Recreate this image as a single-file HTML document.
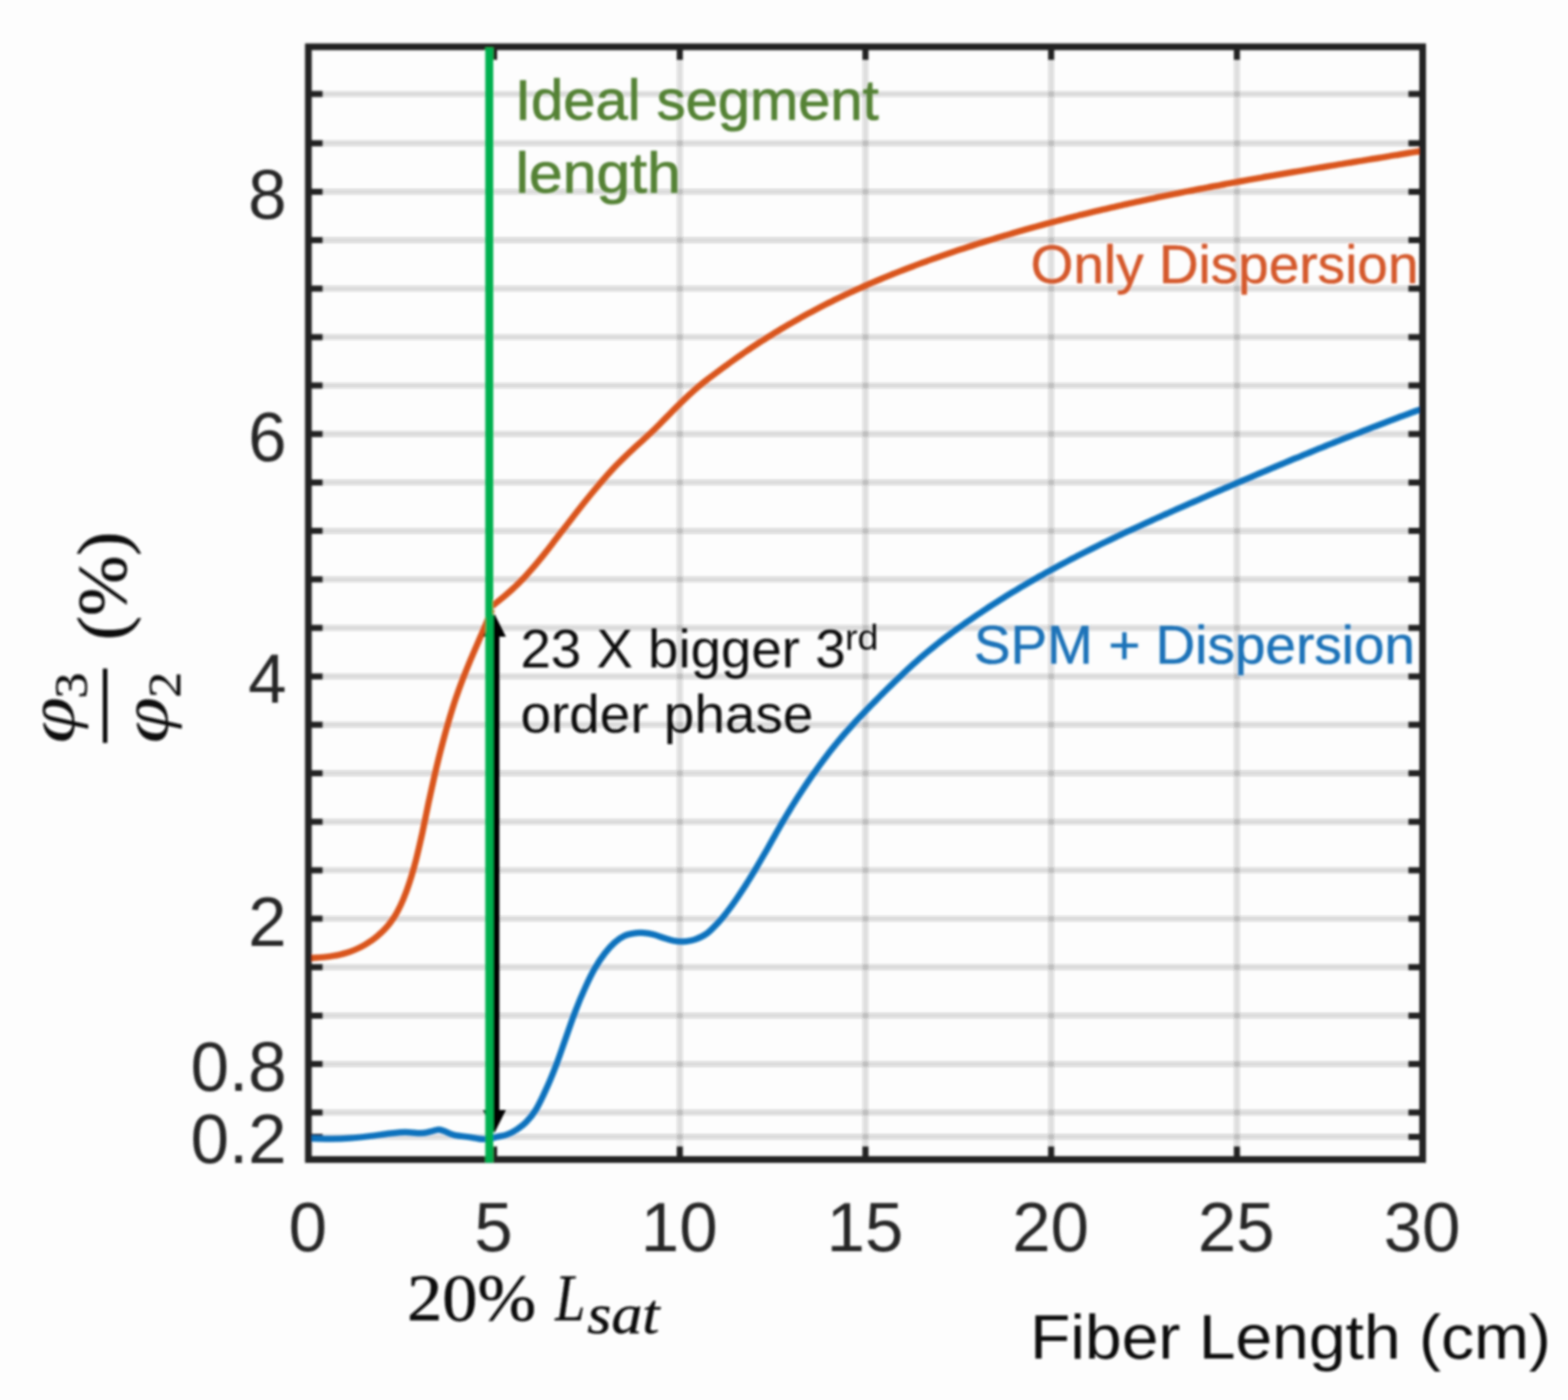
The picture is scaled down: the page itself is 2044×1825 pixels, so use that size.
<!DOCTYPE html>
<html lang="en"><head><meta charset="utf-8"><title>Fiber Length chart</title>
<style>
html,body{margin:0;padding:0;background:#fdfdfd;}
body{width:2044px;height:1825px;overflow:hidden;}
svg{display:block;}
</style></head><body>
<svg width="2044" height="1825" viewBox="0 0 2044 1825">
<defs><filter id="b" x="-5%" y="-5%" width="110%" height="110%"><feGaussianBlur stdDeviation="1.5"/></filter></defs>
<rect width="2044" height="1825" fill="#fdfdfd"/>
<g filter="url(#b)">
<g stroke="#262626" stroke-opacity="0.155" stroke-width="7.4" fill="none">
<path d="M420.0 1481.9H1836.5"/>
<path d="M420.0 1450.3H1836.5"/>
<path d="M420.0 1387.1H1836.5"/>
<path d="M420.0 1323.9H1836.5"/>
<path d="M420.0 1260.7H1836.5"/>
<path d="M420.0 1197.6H1836.5"/>
<path d="M420.0 1134.4H1836.5"/>
<path d="M420.0 1071.2H1836.5"/>
<path d="M420.0 1008.0H1836.5"/>
<path d="M420.0 944.8H1836.5"/>
<path d="M420.0 881.7H1836.5"/>
<path d="M420.0 818.5H1836.5"/>
<path d="M420.0 755.3H1836.5"/>
<path d="M420.0 692.1H1836.5"/>
<path d="M420.0 628.9H1836.5"/>
<path d="M420.0 565.8H1836.5"/>
<path d="M420.0 502.6H1836.5"/>
<path d="M420.0 439.4H1836.5"/>
<path d="M420.0 376.2H1836.5"/>
<path d="M420.0 313.0H1836.5"/>
<path d="M420.0 249.9H1836.5"/>
<path d="M420.0 186.7H1836.5"/>
<path d="M420.0 122.6H1836.5"/>
</g>
<g stroke="#262626" stroke-opacity="0.145" stroke-width="7.6" fill="none">
<path d="M886.2 77.0V1495.5"/>
<path d="M1128.2 77.0V1495.5"/>
<path d="M1370.3 77.0V1495.5"/>
<path d="M1612.4 77.0V1495.5"/>
</g>
<g stroke="#242424" stroke-width="8" fill="none">
<path d="M402.0 1481.9h18.5M1854.5 1481.9h-18.5"/>
<path d="M402.0 1450.3h18.5M1854.5 1450.3h-18.5"/>
<path d="M402.0 1387.1h18.5M1854.5 1387.1h-18.5"/>
<path d="M402.0 1323.9h18.5M1854.5 1323.9h-18.5"/>
<path d="M402.0 1260.7h18.5M1854.5 1260.7h-18.5"/>
<path d="M402.0 1197.6h18.5M1854.5 1197.6h-18.5"/>
<path d="M402.0 1134.4h18.5M1854.5 1134.4h-18.5"/>
<path d="M402.0 1071.2h18.5M1854.5 1071.2h-18.5"/>
<path d="M402.0 1008.0h18.5M1854.5 1008.0h-18.5"/>
<path d="M402.0 944.8h18.5M1854.5 944.8h-18.5"/>
<path d="M402.0 881.7h18.5M1854.5 881.7h-18.5"/>
<path d="M402.0 818.5h18.5M1854.5 818.5h-18.5"/>
<path d="M402.0 755.3h18.5M1854.5 755.3h-18.5"/>
<path d="M402.0 692.1h18.5M1854.5 692.1h-18.5"/>
<path d="M402.0 628.9h18.5M1854.5 628.9h-18.5"/>
<path d="M402.0 565.8h18.5M1854.5 565.8h-18.5"/>
<path d="M402.0 502.6h18.5M1854.5 502.6h-18.5"/>
<path d="M402.0 439.4h18.5M1854.5 439.4h-18.5"/>
<path d="M402.0 376.2h18.5M1854.5 376.2h-18.5"/>
<path d="M402.0 313.0h18.5M1854.5 313.0h-18.5"/>
<path d="M402.0 249.9h18.5M1854.5 249.9h-18.5"/>
<path d="M402.0 186.7h18.5M1854.5 186.7h-18.5"/>
<path d="M402.0 122.6h18.5M1854.5 122.6h-18.5"/>
<path d="M644.1 61.0v17M644.1 1511.5v-17"/>
<path d="M886.2 61.0v17M886.2 1511.5v-17"/>
<path d="M1128.2 61.0v17M1128.2 1511.5v-17"/>
<path d="M1370.3 61.0v17M1370.3 1511.5v-17"/>
<path d="M1612.4 61.0v17M1612.4 1511.5v-17"/>
</g>
<text id="ideal" x="671.3" y="155.7" font-family="'Liberation Sans', Arial, Helvetica, sans-serif" font-size="75.0" fill="#548235" textLength="474.2" lengthAdjust="spacingAndGlyphs" stroke="#548235" stroke-width="1.00">Ideal segment</text>
<text id="length" x="672.0" y="251.4" font-family="'Liberation Sans', Arial, Helvetica, sans-serif" font-size="75.0" fill="#548235" textLength="215.4" lengthAdjust="spacingAndGlyphs" stroke="#548235" stroke-width="1.00">length</text>
<text id="only" x="1343.5" y="368.9" font-family="'Liberation Sans', Arial, Helvetica, sans-serif" font-size="71.0" fill="#d4582a" textLength="505.5" lengthAdjust="spacingAndGlyphs" stroke="#d4582a" stroke-width="0.60">Only Dispersion</text>
<text id="spm" x="1269.6" y="865.0" font-family="'Liberation Sans', Arial, Helvetica, sans-serif" font-size="71.0" fill="#1a72b8" textLength="575.0" lengthAdjust="spacingAndGlyphs" stroke="#1a72b8" stroke-width="0.60">SPM + Dispersion</text>
<text id="x23" x="678.4" y="870.0" font-family="'Liberation Sans', Arial, Helvetica, sans-serif" font-size="71.0" fill="#111" textLength="423.9" lengthAdjust="spacingAndGlyphs">23 X bigger 3</text>
<text id="rd" x="1101.4" y="846.6" font-family="'Liberation Sans', Arial, Helvetica, sans-serif" font-size="47.0" fill="#111" textLength="43.9" lengthAdjust="spacingAndGlyphs">rd</text>
<text id="order" x="678.4" y="954.6" font-family="'Liberation Sans', Arial, Helvetica, sans-serif" font-size="71.0" fill="#111" textLength="382.0" lengthAdjust="spacingAndGlyphs">order phase</text>
<text id="fiber" x="1342.7" y="1770.6" font-family="'Liberation Sans', Arial, Helvetica, sans-serif" font-size="82.0" fill="#111" textLength="679.1" lengthAdjust="spacingAndGlyphs">Fiber Length (cm)</text>
<text id="p20" x="530.7" y="1720.8" font-family="'Liberation Serif', 'DejaVu Serif', serif" font-size="86.0" fill="#111" textLength="168.1" lengthAdjust="spacingAndGlyphs" stroke="#111" stroke-width="0.70">20%</text>
<text id="L" x="723.8" y="1720.8" font-family="'Liberation Serif', 'DejaVu Serif', serif" font-size="86.0" fill="#111" font-style="italic" textLength="39.2" lengthAdjust="spacingAndGlyphs" stroke="#111" stroke-width="0.50">L</text>
<text id="sat" x="765.6" y="1737.6" font-family="'Liberation Serif', 'DejaVu Serif', serif" font-size="74.0" fill="#111" font-style="italic" textLength="94.1" lengthAdjust="spacingAndGlyphs" stroke="#111" stroke-width="0.60">sat</text>
<text id="pct" x="-834.6" y="164.0" font-family="'Liberation Serif', 'DejaVu Serif', serif" font-size="90.0" fill="#111" textLength="141.7" lengthAdjust="spacingAndGlyphs" stroke="#111" stroke-width="0.70" transform="rotate(-90)">(%)</text>
<text id="phi3" x="-969.1" y="96.0" font-family="'Liberation Serif', 'DejaVu Serif', serif" font-size="86.0" fill="#111" font-style="italic" textLength="60.6" lengthAdjust="spacingAndGlyphs" transform="rotate(-90)">φ</text>
<text id="s3" x="-910.8" y="113.0" font-family="'Liberation Serif', 'DejaVu Serif', serif" font-size="62.0" fill="#111" textLength="34.1" lengthAdjust="spacingAndGlyphs" stroke="#111" stroke-width="0.40" transform="rotate(-90)">3</text>
<text id="phi2" x="-969.1" y="218.0" font-family="'Liberation Serif', 'DejaVu Serif', serif" font-size="86.0" fill="#111" font-style="italic" textLength="60.6" lengthAdjust="spacingAndGlyphs" transform="rotate(-90)">φ</text>
<text id="s2" x="-909.7" y="235.0" font-family="'Liberation Serif', 'DejaVu Serif', serif" font-size="62.0" fill="#111" textLength="34.1" lengthAdjust="spacingAndGlyphs" stroke="#111" stroke-width="0.40" transform="rotate(-90)">2</text>
<text id="y8" x="373.6" y="285.0" font-family="'Liberation Sans', Arial, Helvetica, sans-serif" font-size="90.0" fill="#262626" text-anchor="end">8</text>
<text id="y6" x="373.6" y="600.6" font-family="'Liberation Sans', Arial, Helvetica, sans-serif" font-size="90.0" fill="#262626" text-anchor="end">6</text>
<text id="y4" x="373.6" y="916.4" font-family="'Liberation Sans', Arial, Helvetica, sans-serif" font-size="90.0" fill="#262626" text-anchor="end">4</text>
<text id="y2" x="373.6" y="1232.8" font-family="'Liberation Sans', Arial, Helvetica, sans-serif" font-size="90.0" fill="#262626" text-anchor="end">2</text>
<text id="y0.8" x="373.6" y="1421.8" font-family="'Liberation Sans', Arial, Helvetica, sans-serif" font-size="90.0" fill="#262626" text-anchor="end">0.8</text>
<text id="y0.2" x="373.6" y="1515.8" font-family="'Liberation Sans', Arial, Helvetica, sans-serif" font-size="90.0" fill="#262626" text-anchor="end">0.2</text>
<text id="x0" x="401.2" y="1630.6" font-family="'Liberation Sans', Arial, Helvetica, sans-serif" font-size="90.0" fill="#262626" text-anchor="middle">0</text>
<text id="x5" x="643.3" y="1630.6" font-family="'Liberation Sans', Arial, Helvetica, sans-serif" font-size="90.0" fill="#262626" text-anchor="middle">5</text>
<text id="x10" x="885.4" y="1630.6" font-family="'Liberation Sans', Arial, Helvetica, sans-serif" font-size="90.0" fill="#262626" text-anchor="middle">10</text>
<text id="x15" x="1127.5" y="1630.6" font-family="'Liberation Sans', Arial, Helvetica, sans-serif" font-size="90.0" fill="#262626" text-anchor="middle">15</text>
<text id="x20" x="1369.5" y="1630.6" font-family="'Liberation Sans', Arial, Helvetica, sans-serif" font-size="90.0" fill="#262626" text-anchor="middle">20</text>
<text id="x25" x="1611.6" y="1630.6" font-family="'Liberation Sans', Arial, Helvetica, sans-serif" font-size="90.0" fill="#262626" text-anchor="middle">25</text>
<text id="x30" x="1853.7" y="1630.6" font-family="'Liberation Sans', Arial, Helvetica, sans-serif" font-size="90.0" fill="#262626" text-anchor="middle">30</text>
<path d="M401.4 1249.0C402.8 1248.9 406.9 1248.8 409.7 1248.6C412.4 1248.4 415.2 1248.3 418.0 1248.0C420.7 1247.8 423.5 1247.5 426.2 1247.2C429.0 1246.9 431.7 1246.5 434.5 1246.0C437.3 1245.6 440.0 1245.1 442.8 1244.4C445.5 1243.8 448.3 1243.1 451.1 1242.3C453.8 1241.5 456.6 1240.5 459.3 1239.5C462.1 1238.4 464.8 1237.2 467.6 1235.9C470.4 1234.6 473.1 1233.1 475.9 1231.5C478.6 1229.9 481.4 1228.1 484.2 1226.2C486.9 1224.2 489.7 1222.1 492.4 1219.8C495.2 1217.4 498.0 1215.0 500.7 1212.2C503.5 1209.3 506.2 1206.2 509.0 1202.5C511.7 1198.8 514.5 1194.7 517.3 1189.7C520.0 1184.7 522.8 1179.2 525.5 1172.7C528.3 1166.1 531.1 1158.8 533.8 1150.3C536.6 1141.8 539.3 1132.3 542.1 1121.7C544.8 1111.0 547.6 1098.7 550.4 1086.3C553.1 1073.8 555.9 1059.6 558.6 1046.7C561.4 1033.9 564.2 1021.1 566.9 1009.1C569.7 997.2 572.4 985.9 575.2 975.2C578.0 964.5 580.7 954.3 583.5 944.8C586.2 935.2 589.0 926.2 591.7 917.7C594.5 909.2 597.3 901.4 600.0 893.8C602.8 886.3 605.5 879.3 608.3 872.5C611.1 865.6 613.8 859.1 616.6 852.7C619.3 846.2 622.1 840.0 624.8 833.6C627.6 827.2 630.4 821.0 633.1 814.4C635.9 807.8 640.0 797.5 641.4 794.2" stroke="#d9541b" stroke-width="8.2" fill="none" stroke-linejoin="round"/>
<path d="M641.4 790.2C642.9 789.0 647.2 785.6 650.1 783.3C653.0 780.9 655.9 778.6 658.8 776.1C661.8 773.6 664.7 771.0 667.6 768.4C670.5 765.7 673.4 763.0 676.3 760.1C679.2 757.2 682.1 754.2 685.0 751.1C687.9 747.9 690.8 744.6 693.7 741.3C696.7 737.9 699.6 734.5 702.5 730.9C705.4 727.4 708.3 723.8 711.2 720.1C714.1 716.4 717.0 712.7 719.9 708.9C722.8 705.2 725.7 701.4 728.6 697.6C731.5 693.8 734.5 690.0 737.4 686.3C740.3 682.5 743.2 678.7 746.1 675.0C749.0 671.2 751.9 667.5 754.8 663.8C757.7 660.1 760.6 656.4 763.5 652.8C766.4 649.2 769.3 645.6 772.3 642.0C775.2 638.5 778.1 635.0 781.0 631.6C783.9 628.2 786.8 624.8 789.7 621.5C792.6 618.2 795.5 615.0 798.4 611.9C801.3 608.8 804.2 605.7 807.2 602.8C810.1 599.8 813.0 597.0 815.9 594.2C818.8 591.4 821.7 588.7 824.6 586.0C827.5 583.4 830.4 580.8 833.3 578.1C836.2 575.5 839.1 572.9 842.0 570.1C845.0 567.4 847.9 564.7 850.8 561.9C853.7 559.1 856.6 556.2 859.5 553.3C862.4 550.4 865.3 547.4 868.2 544.5C871.1 541.5 874.0 538.6 876.9 535.6C879.8 532.7 882.8 529.8 885.7 526.9C888.6 524.1 891.5 521.3 894.4 518.5C897.3 515.8 900.2 513.1 903.1 510.5C906.0 507.9 908.9 505.4 911.8 502.9C914.7 500.5 917.7 498.1 920.6 495.8C923.5 493.5 926.4 491.3 929.3 489.2C932.2 487.0 935.1 484.9 938.0 482.7C940.9 480.6 943.8 478.5 946.7 476.4C949.6 474.2 952.5 472.1 955.5 470.0C958.4 468.0 961.3 465.9 964.2 463.9C967.1 461.9 970.0 459.8 972.9 457.9C975.8 455.9 978.7 453.9 981.6 452.0C984.5 450.1 987.4 448.2 990.3 446.3C993.3 444.4 996.2 442.5 999.1 440.7C1002.0 438.9 1004.9 437.0 1007.8 435.2C1010.7 433.4 1013.6 431.7 1016.5 429.9C1019.4 428.2 1022.3 426.5 1025.2 424.7C1028.2 423.0 1031.1 421.4 1034.0 419.7C1036.9 418.0 1039.8 416.4 1042.7 414.8C1045.6 413.1 1048.5 411.5 1051.4 409.9C1054.3 408.4 1057.2 406.8 1060.1 405.3C1063.0 403.7 1066.0 402.2 1068.9 400.7C1071.8 399.2 1074.7 397.7 1077.6 396.2C1080.5 394.7 1083.4 393.3 1086.3 391.8C1089.2 390.4 1092.1 389.0 1095.0 387.6C1097.9 386.2 1100.9 384.8 1103.8 383.4C1106.7 382.1 1109.6 380.7 1112.5 379.4C1115.4 378.0 1118.3 376.7 1121.2 375.4C1124.1 374.1 1127.0 372.8 1129.9 371.6C1132.8 370.3 1135.7 369.0 1138.7 367.8C1141.6 366.5 1144.5 365.3 1147.4 364.1C1150.3 362.9 1153.2 361.7 1156.1 360.5C1159.0 359.3 1161.9 358.1 1164.8 356.9C1167.7 355.8 1170.6 354.6 1173.5 353.5C1176.5 352.3 1179.4 351.2 1182.3 350.1C1185.2 349.0 1188.1 347.9 1191.0 346.8C1193.9 345.7 1196.8 344.6 1199.7 343.5C1202.6 342.4 1205.5 341.4 1208.4 340.3C1211.4 339.3 1214.3 338.2 1217.2 337.2C1220.1 336.2 1223.0 335.1 1225.9 334.1C1228.8 333.1 1231.7 332.1 1234.6 331.1C1237.5 330.1 1240.4 329.1 1243.3 328.1C1246.2 327.2 1249.2 326.2 1252.1 325.2C1255.0 324.3 1257.9 323.3 1260.8 322.3C1263.7 321.4 1266.6 320.5 1269.5 319.5C1272.4 318.6 1275.3 317.7 1278.2 316.7C1281.1 315.8 1284.0 314.9 1287.0 314.0C1289.9 313.1 1292.8 312.2 1295.7 311.3C1298.6 310.4 1301.5 309.6 1304.4 308.7C1307.3 307.8 1310.2 306.9 1313.1 306.1C1316.0 305.2 1318.9 304.4 1321.9 303.5C1324.8 302.7 1327.7 301.8 1330.6 301.0C1333.5 300.2 1336.4 299.3 1339.3 298.5C1342.2 297.7 1345.1 296.9 1348.0 296.1C1350.9 295.3 1353.8 294.5 1356.7 293.7C1359.7 292.9 1362.6 292.1 1365.5 291.3C1368.4 290.5 1371.3 289.8 1374.2 289.0C1377.1 288.2 1380.0 287.5 1382.9 286.7C1385.8 286.0 1388.7 285.2 1391.6 284.5C1394.5 283.7 1397.5 283.0 1400.4 282.3C1403.3 281.5 1406.2 280.8 1409.1 280.1C1412.0 279.4 1414.9 278.6 1417.8 277.9C1420.7 277.2 1423.6 276.5 1426.5 275.8C1429.4 275.1 1432.4 274.4 1435.3 273.7C1438.2 273.0 1441.1 272.4 1444.0 271.7C1446.9 271.0 1449.8 270.3 1452.7 269.7C1455.6 269.0 1458.5 268.3 1461.4 267.7C1464.3 267.0 1467.2 266.4 1470.2 265.7C1473.1 265.1 1476.0 264.4 1478.9 263.8C1481.8 263.1 1484.7 262.5 1487.6 261.9C1490.5 261.3 1493.4 260.6 1496.3 260.0C1499.2 259.4 1502.1 258.8 1505.1 258.2C1508.0 257.5 1510.9 256.9 1513.8 256.3C1516.7 255.7 1519.6 255.1 1522.5 254.5C1525.4 253.9 1528.3 253.3 1531.2 252.8C1534.1 252.2 1537.0 251.6 1539.9 251.0C1542.9 250.4 1545.8 249.8 1548.7 249.3C1551.6 248.7 1554.5 248.1 1557.4 247.6C1560.3 247.0 1563.2 246.4 1566.1 245.9C1569.0 245.3 1571.9 244.7 1574.8 244.2C1577.7 243.6 1580.7 243.1 1583.6 242.5C1586.5 242.0 1589.4 241.5 1592.3 240.9C1595.2 240.4 1598.1 239.8 1601.0 239.3C1603.9 238.8 1606.8 238.2 1609.7 237.7C1612.6 237.2 1615.6 236.6 1618.5 236.1C1621.4 235.6 1624.3 235.1 1627.2 234.5C1630.1 234.0 1633.0 233.5 1635.9 233.0C1638.8 232.5 1641.7 232.0 1644.6 231.5C1647.5 230.9 1650.4 230.4 1653.4 229.9C1656.3 229.4 1659.2 228.9 1662.1 228.4C1665.0 227.9 1667.9 227.4 1670.8 226.9C1673.7 226.4 1676.6 225.9 1679.5 225.4C1682.4 224.9 1685.3 224.4 1688.2 223.9C1691.2 223.4 1694.1 222.9 1697.0 222.5C1699.9 222.0 1702.8 221.5 1705.7 221.0C1708.6 220.5 1711.5 220.0 1714.4 219.5C1717.3 219.0 1720.2 218.6 1723.1 218.1C1726.1 217.6 1729.0 217.1 1731.9 216.6C1734.8 216.2 1737.7 215.7 1740.6 215.2C1743.5 214.7 1746.4 214.2 1749.3 213.8C1752.2 213.3 1755.1 212.8 1758.0 212.3C1760.9 211.8 1763.9 211.4 1766.8 210.9C1769.7 210.4 1772.6 209.9 1775.5 209.5C1778.4 209.0 1781.3 208.5 1784.2 208.0C1787.1 207.6 1790.0 207.1 1792.9 206.6C1795.8 206.1 1798.7 205.7 1801.7 205.2C1804.6 204.7 1807.5 204.2 1810.4 203.7C1813.3 203.3 1816.2 202.8 1819.1 202.3C1822.0 201.8 1824.9 201.4 1827.8 200.9C1830.7 200.4 1833.6 199.9 1836.6 199.4C1839.5 199.0 1842.4 198.5 1845.3 198.0C1848.2 197.5 1852.5 196.8 1854.0 196.6" stroke="#d9541b" stroke-width="8.2" fill="none" stroke-linejoin="round"/>
<path d="M401.7 1484.0C406.6 1484.1 421.9 1484.7 431.0 1484.6C440.1 1484.5 448.0 1484.2 456.5 1483.6C465.0 1483.0 473.6 1482.0 482.1 1481.0C490.6 1480.0 500.0 1478.5 507.6 1477.7C515.2 1476.9 521.2 1476.0 528.0 1475.9C534.8 1475.8 542.9 1477.3 548.4 1477.2C553.9 1477.1 557.4 1475.9 561.2 1475.1C565.0 1474.3 568.4 1472.7 571.4 1472.6C574.4 1472.5 575.6 1473.2 579.0 1474.4C582.4 1475.6 586.7 1478.2 591.8 1479.5C596.9 1480.8 604.2 1481.2 609.7 1482.0C615.2 1482.8 620.8 1484.1 625.0 1484.6C629.2 1485.1 631.4 1485.2 635.2 1484.8C639.0 1484.4 643.6 1483.0 647.9 1482.0C652.1 1481.0 656.5 1480.6 660.7 1479.0C665.0 1477.4 669.1 1475.4 673.4 1472.6C677.6 1469.8 681.9 1466.9 686.2 1462.4C690.5 1457.9 694.8 1452.8 699.0 1445.8C703.2 1438.8 707.5 1429.6 711.7 1420.3C716.0 1411.0 720.2 1400.8 724.5 1389.7C728.8 1378.6 733.0 1365.8 737.3 1353.9C741.5 1342.0 745.8 1329.2 750.0 1318.2C754.2 1307.2 758.5 1296.9 762.8 1287.6C767.0 1278.2 771.2 1269.5 775.5 1262.1C779.8 1254.6 784.0 1248.4 788.3 1242.9C792.5 1237.4 796.8 1232.7 801.0 1228.9C805.2 1225.1 809.5 1222.0 813.8 1220.0C818.0 1218.0 822.2 1217.2 826.5 1216.6C830.8 1215.9 835.0 1215.8 839.3 1216.1C843.6 1216.4 847.9 1217.1 852.1 1218.2C856.4 1219.3 860.5 1221.2 864.8 1222.5C869.0 1223.8 873.3 1225.5 877.6 1226.3C881.9 1227.1 886.0 1227.7 890.8 1227.4C895.6 1227.1 901.1 1226.3 906.2 1224.6C911.3 1222.8 916.3 1220.7 921.5 1216.9C926.7 1213.1 933.3 1205.7 937.2 1201.6C941.1 1197.5 942.4 1195.5 945.0 1192.3C947.6 1189.1 950.2 1185.6 952.8 1182.1C955.5 1178.5 958.1 1174.8 960.7 1171.0C963.3 1167.2 965.9 1163.3 968.5 1159.3C971.1 1155.3 973.7 1151.1 976.4 1146.9C979.0 1142.7 981.6 1138.4 984.2 1134.1C986.8 1129.7 989.4 1125.3 992.0 1120.8C994.6 1116.3 997.2 1111.8 999.9 1107.2C1002.5 1102.6 1005.1 1097.9 1007.7 1093.3C1010.3 1088.7 1012.9 1084.0 1015.5 1079.5C1018.1 1074.9 1020.8 1070.4 1023.4 1066.0C1026.0 1061.6 1028.6 1057.3 1031.2 1053.0C1033.8 1048.8 1036.4 1044.7 1039.0 1040.6C1041.7 1036.5 1044.3 1032.5 1046.9 1028.6C1049.5 1024.6 1052.1 1020.7 1054.7 1016.9C1057.3 1013.1 1059.9 1009.4 1062.6 1005.7C1065.2 1002.0 1067.8 998.4 1070.4 994.8C1073.0 991.3 1075.6 987.8 1078.2 984.4C1080.8 981.0 1083.4 977.7 1086.1 974.4C1088.7 971.2 1091.3 968.0 1093.9 964.9C1096.5 961.7 1099.1 958.7 1101.7 955.7C1104.3 952.7 1107.0 949.8 1109.6 946.9C1112.2 944.0 1114.8 941.1 1117.4 938.3C1120.0 935.5 1122.6 932.8 1125.2 930.1C1127.9 927.3 1130.5 924.6 1133.1 921.9C1135.7 919.3 1138.3 916.6 1140.9 914.0C1143.5 911.3 1146.1 908.7 1148.7 906.0C1151.4 903.4 1154.0 900.8 1156.6 898.2C1159.2 895.6 1161.8 893.0 1164.4 890.5C1167.0 887.9 1169.6 885.4 1172.3 882.9C1174.9 880.4 1177.5 877.9 1180.1 875.4C1182.7 873.0 1185.3 870.6 1187.9 868.2C1190.5 865.8 1193.2 863.5 1195.8 861.2C1198.4 858.9 1201.0 856.6 1203.6 854.4C1206.2 852.2 1208.8 850.0 1211.4 847.9C1214.0 845.7 1216.7 843.6 1219.3 841.5C1221.9 839.4 1224.5 837.4 1227.1 835.3C1229.7 833.3 1232.3 831.3 1234.9 829.3C1237.6 827.4 1240.2 825.4 1242.8 823.5C1245.4 821.6 1248.0 819.7 1250.6 817.8C1253.2 815.9 1255.8 814.1 1258.5 812.2C1261.1 810.4 1263.7 808.6 1266.3 806.8C1268.9 805.0 1271.5 803.2 1274.1 801.4C1276.7 799.7 1279.4 797.9 1282.0 796.2C1284.6 794.5 1287.2 792.7 1289.8 791.0C1292.4 789.3 1295.0 787.6 1297.6 786.0C1300.2 784.3 1302.9 782.7 1305.5 781.0C1308.1 779.4 1310.7 777.7 1313.3 776.1C1315.9 774.5 1318.5 772.9 1321.1 771.3C1323.8 769.7 1326.4 768.2 1329.0 766.6C1331.6 765.1 1334.2 763.5 1336.8 762.0C1339.4 760.4 1342.0 758.9 1344.7 757.4C1347.3 755.9 1349.9 754.4 1352.5 752.9C1355.1 751.4 1357.7 750.0 1360.3 748.5C1362.9 747.0 1365.5 745.6 1368.2 744.2C1370.8 742.7 1373.4 741.3 1376.0 739.9C1378.6 738.5 1381.2 737.1 1383.8 735.7C1386.4 734.3 1389.1 732.9 1391.7 731.5C1394.3 730.1 1396.9 728.8 1399.5 727.4C1402.1 726.1 1404.7 724.7 1407.3 723.4C1410.0 722.0 1412.6 720.7 1415.2 719.4C1417.8 718.1 1420.4 716.8 1423.0 715.5C1425.6 714.2 1428.2 712.9 1430.8 711.6C1433.5 710.3 1436.1 709.0 1438.7 707.7C1441.3 706.5 1443.9 705.2 1446.5 704.0C1449.1 702.7 1451.7 701.5 1454.4 700.2C1457.0 699.0 1459.6 697.7 1462.2 696.5C1464.8 695.3 1467.4 694.0 1470.0 692.8C1472.6 691.6 1475.3 690.4 1477.9 689.2C1480.5 688.0 1483.1 686.8 1485.7 685.6C1488.3 684.4 1490.9 683.2 1493.5 682.0C1496.1 680.8 1498.8 679.6 1501.4 678.4C1504.0 677.3 1506.6 676.1 1509.2 674.9C1511.8 673.7 1514.4 672.6 1517.0 671.4C1519.7 670.2 1522.3 669.1 1524.9 667.9C1527.5 666.8 1530.1 665.6 1532.7 664.4C1535.3 663.3 1537.9 662.1 1540.6 661.0C1543.2 659.8 1545.8 658.7 1548.4 657.5C1551.0 656.4 1553.6 655.2 1556.2 654.1C1558.8 653.0 1561.5 651.8 1564.1 650.7C1566.7 649.5 1569.3 648.4 1571.9 647.3C1574.5 646.1 1577.1 645.0 1579.7 643.8C1582.3 642.7 1585.0 641.6 1587.6 640.4C1590.2 639.3 1592.8 638.2 1595.4 637.0C1598.0 635.9 1600.6 634.8 1603.2 633.7C1605.9 632.5 1608.5 631.4 1611.1 630.3C1613.7 629.2 1616.3 628.0 1618.9 626.9C1621.5 625.8 1624.1 624.7 1626.8 623.6C1629.4 622.4 1632.0 621.3 1634.6 620.2C1637.2 619.1 1639.8 618.0 1642.4 616.9C1645.0 615.8 1647.6 614.7 1650.3 613.6C1652.9 612.5 1655.5 611.4 1658.1 610.3C1660.7 609.2 1663.3 608.1 1665.9 607.0C1668.5 605.9 1671.2 604.8 1673.8 603.7C1676.4 602.6 1679.0 601.5 1681.6 600.4C1684.2 599.3 1686.8 598.2 1689.4 597.2C1692.1 596.1 1694.7 595.0 1697.3 593.9C1699.9 592.8 1702.5 591.8 1705.1 590.7C1707.7 589.6 1710.3 588.6 1712.9 587.5C1715.6 586.4 1718.2 585.4 1720.8 584.3C1723.4 583.2 1726.0 582.2 1728.6 581.1C1731.2 580.1 1733.8 579.0 1736.5 578.0C1739.1 576.9 1741.7 575.9 1744.3 574.8C1746.9 573.8 1749.5 572.7 1752.1 571.7C1754.7 570.7 1757.4 569.6 1760.0 568.6C1762.6 567.6 1765.2 566.5 1767.8 565.5C1770.4 564.5 1773.0 563.4 1775.6 562.4C1778.3 561.4 1780.9 560.4 1783.5 559.4C1786.1 558.4 1788.7 557.4 1791.3 556.3C1793.9 555.3 1796.5 554.3 1799.1 553.3C1801.8 552.3 1804.4 551.3 1807.0 550.3C1809.6 549.3 1812.2 548.4 1814.8 547.4C1817.4 546.4 1820.0 545.4 1822.7 544.4C1825.3 543.4 1827.9 542.5 1830.5 541.5C1833.1 540.5 1835.7 539.6 1838.3 538.6C1840.9 537.6 1843.6 536.7 1846.2 535.7C1848.8 534.8 1852.7 533.3 1854.0 532.8" stroke="#0d72bd" stroke-width="8.2" fill="none" stroke-linejoin="round"/>
<rect x="402.0" y="61.0" width="1452.5" height="1450.5" fill="none" stroke="#242424" stroke-width="8.8"/>
<path d="M644.5 815V1460" stroke="#000" stroke-width="13" fill="none"/>
<path d="M644.5 800L659.5 830H629.5Z" fill="#000"/>
<path d="M644.5 1477L659.5 1447H629.5Z" fill="#000"/>
<path d="M637.8 62V1515.5" stroke="#00b050" stroke-width="10.4" fill="none"/>
<path d="M137 968.5V871.5" stroke="#111" stroke-width="6" fill="none"/>
</g>
</svg>
</body></html>
